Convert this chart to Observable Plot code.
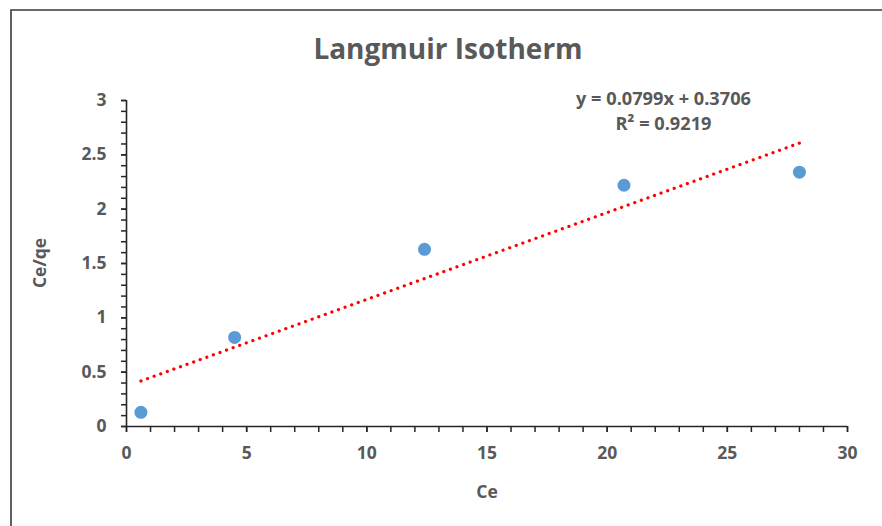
<!DOCTYPE html>
<html>
<head>
<meta charset="utf-8">
<script src="https://cdn.jsdelivr.net/npm/d3@7"></script>
<script src="https://cdn.jsdelivr.net/npm/@observablehq/plot@0.6"></script>
<style>
  html, body { margin: 0; padding: 0; background: #fff; }
  #chart { width: 882px; height: 526px; overflow: hidden; }
  svg { font-family: "Open Sans", Lato, sans-serif; }
</style>
</head>
<body>
<div id="chart"></div>
<script>
// Langmuir isotherm: Ce vs Ce/qe with linear trendline
const ce = [0.6, 4.5, 12.4, 20.7, 28.0];
const ceOverQe = [0.13, 0.82, 1.63, 2.22, 2.34];

// Fitted trendline parameters
const slope = 0.0799;
const intercept = 0.3706;
const rSquared = 0.9219;

const xMajorTicks = [0, 5, 10, 15, 20, 25, 30];
const yMajorTicks = [0, 0.5, 1, 1.5, 2, 2.5, 3];
const yTickLabels = ["0", "0.5", "1", "1.5", "2", "2.5", "3"];

const titleText = "Langmuir Isotherm";
const xTitle = "Ce";
const yTitle = "Ce/qe";

const points = ce.map((x, i) => ({x, y: ceOverQe[i]}));
const xMin = d3.min(ce), xMax = d3.max(ce);
const trend = [xMin, xMax].map(x => ({x, y: slope * x + intercept}));

const textColor = "#595959";
const axisColor = "#262626";
const W = 882, H = 526;

const plot = Plot.plot({
  width: W,
  height: H,
  marginLeft: 126,
  marginRight: 35,
  marginTop: 100,
  marginBottom: 100,
  x: {domain: [0, 30]},
  y: {domain: [0, 3]},
  style: {fontFamily: "'Open Sans', Lato, sans-serif", background: "#fff"},
  marks: [
    // minor ticks
    Plot.axisX({ticks: d3.range(0, 31, 1), tickSize: 6, text: null, label: null, stroke: axisColor, strokeWidth: 1.5}),
    Plot.axisY({ticks: d3.range(0, 3.01, 0.1), tickSize: 5, text: null, label: null, stroke: axisColor, strokeWidth: 1.5}),
    // major ticks with labels
    Plot.axisX({ticks: xMajorTicks, tickSize: 6, tickPadding: 14, tickFormat: d => String(d),
      fontSize: 17.5, fontWeight: "bold", fill: textColor, color: textColor, stroke: axisColor, strokeWidth: 1.5, label: null}),
    Plot.axisY({ticks: yMajorTicks, tickSize: 5, tickPadding: 15, tickFormat: (d, i) => yTickLabels[i],
      fontSize: 17.5, fontWeight: "bold", fill: textColor, color: textColor, stroke: axisColor, strokeWidth: 1.5, label: null}),
    Plot.ruleY([0], {stroke: axisColor, strokeWidth: 1.6}),
    Plot.ruleX([0], {stroke: axisColor, strokeWidth: 1.6}),
    // trendline
    Plot.line(trend, {x: "x", y: "y", stroke: "#ff0000", strokeWidth: 3.2,
      strokeDasharray: "0.1 6.9", strokeLinecap: "round"}),
    // observations
    Plot.dot(points, {x: "x", y: "y", r: 6.5, fill: "#5b9bd5", stroke: "none"}),
    // equation labels
    Plot.text([`y = ${slope}x + ${intercept}`], {frameAnchor: "top-right", dx: -184, dy: -8,
      fontSize: 18.2, fontWeight: "bold", fill: textColor, textAnchor: "middle"}),
    Plot.text([`R² = ${rSquared}`], {frameAnchor: "top-right", dx: -184, dy: 17,
      fontSize: 18.2, fontWeight: "bold", fill: textColor, textAnchor: "middle"})
  ]
});

const svg = d3.select(plot);

// outer chart border (left and top edges visible)
svg.insert("path", ":first-child")
  .attr("d", `M11,${H} L11,10 L${W},10`)
  .attr("fill", "none")
  .attr("stroke", "#3a3a3a")
  .attr("stroke-width", 1.6);

svg.append("text")
  .attr("x", 448).attr("y", 59)
  .attr("text-anchor", "middle")
  .attr("font-size", 28).attr("font-weight", "bold")
  .attr("fill", textColor)
  .text(titleText);

svg.append("text")
  .attr("x", 487).attr("y", 498)
  .attr("text-anchor", "middle")
  .attr("font-size", 17.5).attr("font-weight", "bold")
  .attr("fill", textColor)
  .text(xTitle);

svg.append("text")
  .attr("transform", "translate(46,263) rotate(-90)")
  .attr("text-anchor", "middle")
  .attr("font-size", 17.5).attr("font-weight", "bold")
  .attr("fill", textColor)
  .text(yTitle);

document.getElementById("chart").appendChild(plot);
</script>
</body>
</html>
